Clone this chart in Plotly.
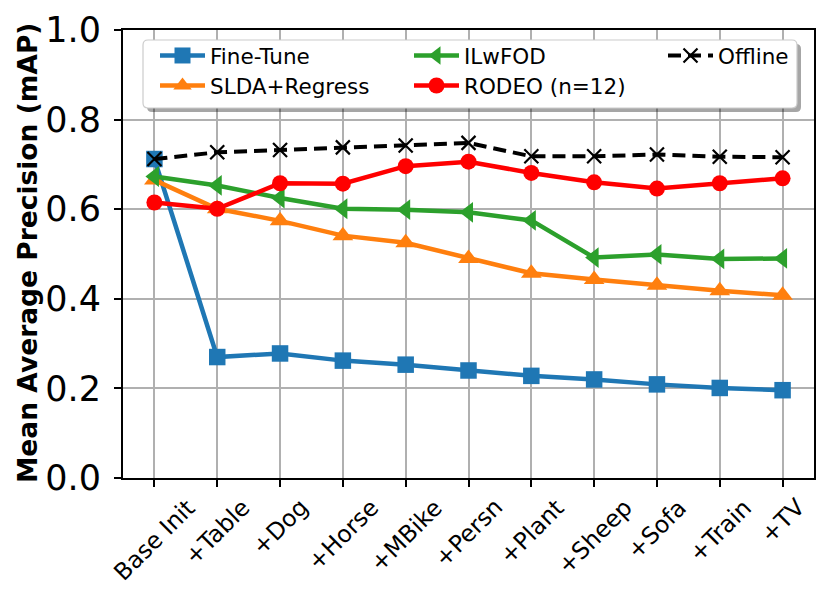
import plotly.graph_objects as go

# values
categories = ["Base Init", "+Table", "+Dog", "+Horse", "+MBike", "+Persn",
              "+Plant", "+Sheep", "+Sofa", "+Train", "+TV"]
fine_tune = [0.712, 0.270, 0.278, 0.262, 0.253, 0.240, 0.228, 0.220, 0.209, 0.201, 0.196]
slda_regress = [0.665, 0.601, 0.574, 0.541, 0.525, 0.490, 0.457, 0.443, 0.430, 0.418, 0.408]
ilwfod = [0.673, 0.653, 0.625, 0.601, 0.599, 0.593, 0.575, 0.492, 0.499, 0.489, 0.490]
rodeo = [0.615, 0.601, 0.658, 0.657, 0.696, 0.706, 0.681, 0.660, 0.646, 0.658, 0.669]
offline = [0.712, 0.727, 0.732, 0.738, 0.742, 0.748, 0.718, 0.718, 0.722, 0.717, 0.716]

y_ticks = [0.0, 0.2, 0.4, 0.6, 0.8, 1.0]
y_title = "Mean Average Precision (mAP)"

FONT = "DejaVu Sans"
W, H = 829, 601
OFF = 8  # the html page body has an 8px margin
# plot box wanted on screen: x 123..814, y 30..478
ML, MT = 123 - OFF, 30 - OFF
MR, MB = W - (814 - OFF), H - (478 - OFF)
PW, PH = W - ML - MR, H - MT - MB


def px_x(p):
    # screen pixel -> paper
    return (p - OFF - ML) / PW


def px_y(p):
    return (H - MB - (p - OFF)) / PH


fig = go.Figure()

series = [
    ("Fine-Tune", fine_tune, "#1f77b4", "square", 16.5, "legend", 194),
    ("SLDA+Regress", slda_regress, "#ff7f0e", "triangle-up", 18, "legend2", 194),
    ("ILwFOD", ilwfod, "#2ca02c", "triangle-left", 18, "legend", 194),
    ("RODEO (n=12)", rodeo, "#ff0000", "circle", 16, "legend2", 160),
]
for name, vals, col, sym, size, leg, lw in series:
    fig.add_trace(go.Scatter(
        x=categories, y=vals, name=name, mode="lines+markers",
        line=dict(color=col, width=4.5),
        marker=dict(symbol=sym, size=size, color=col, line=dict(width=0)),
        legend=leg, legendwidth=lw))

fig.add_trace(go.Scatter(
    x=categories, y=offline, name="Offline", mode="lines+markers",
    line=dict(color="black", width=4, dash="13px,7px"),
    marker=dict(symbol="x-thin", size=14, color="black",
                line=dict(width=2.2, color="black")),
    legend="legend", legendwidth=70))


# legend frame with rounded corners and a shadow (screen pixels -> paper)
def rounded(x0, y0, x1, y1, r=5):
    X, Y = px_x, px_y
    return (f"M{X(x0 + r)},{Y(y0)} L{X(x1 - r)},{Y(y0)} Q{X(x1)},{Y(y0)} {X(x1)},{Y(y0 + r)} "
            f"L{X(x1)},{Y(y1 - r)} Q{X(x1)},{Y(y1)} {X(x1 - r)},{Y(y1)} "
            f"L{X(x0 + r)},{Y(y1)} Q{X(x0)},{Y(y1)} {X(x0)},{Y(y1 - r)} "
            f"L{X(x0)},{Y(y0 + r)} Q{X(x0)},{Y(y0)} {X(x0 + r)},{Y(y0)} Z")


fig.add_shape(type="path", xref="paper", yref="paper", layer="above",
              path=rounded(147, 44, 801, 112), fillcolor="rgba(0,0,0,0.35)",
              line=dict(width=0))
fig.add_shape(type="path", xref="paper", yref="paper", layer="above",
              path=rounded(143, 40, 797, 108), fillcolor="white",
              line=dict(width=1.2, color="#cccccc"))

leg_common = dict(orientation="h", xanchor="left", yanchor="top",
                  bgcolor="rgba(0,0,0,0)", borderwidth=0, itemwidth=45,
                  font=dict(family=FONT, size=21.5, color="black"))

# x tick labels, centred under their ticks like the reference
for c in categories:
    fig.add_annotation(x=c, xref="x", y=px_y(491), yref="paper",
                       text=c, textangle=-45, showarrow=False,
                       xanchor="center", yanchor="top",
                       font=dict(family=FONT, size=23.5, color="black"))

fig.add_annotation(x=px_x(28), xref="paper", y=px_y(253), yref="paper",
                   text=y_title, textangle=-90, showarrow=False,
                   xanchor="center", yanchor="middle",
                   font=dict(family=FONT, size=26.5, color="black", weight="bold"))

fig.update_layout(
    width=W, height=H,
    margin=dict(l=ML, r=MR, t=MT, b=MB),
    paper_bgcolor="white", plot_bgcolor="white",
    font=dict(family=FONT, color="black"),
    legend=dict(x=px_x(155), y=px_y(35), **leg_common),
    legend2=dict(x=px_x(155), y=px_y(65), **leg_common),
)
fig.update_xaxes(
    type="category", range=[-0.5, len(categories) - 0.5], automargin=False,
    showticklabels=False, ticks="outside", ticklen=7, tickwidth=1.5,
    tickcolor="black", showgrid=True, gridcolor="#b0b0b0", gridwidth=1.5,
    showline=True, linecolor="black", linewidth=2, mirror=True, zeroline=False)
fig.update_yaxes(
    range=[0, 1.0], tickvals=y_ticks, tickformat=".1f", automargin=False,
    ticks="outside", ticklen=7, tickwidth=1.5, tickcolor="black",
    tickfont=dict(family=FONT, size=35, color="black"), ticklabelstandoff=6,
    showgrid=True, gridcolor="#b0b0b0", gridwidth=1.5,
    showline=True, linecolor="black", linewidth=2, mirror=True, zeroline=False)

fig.write_html("out.html")
